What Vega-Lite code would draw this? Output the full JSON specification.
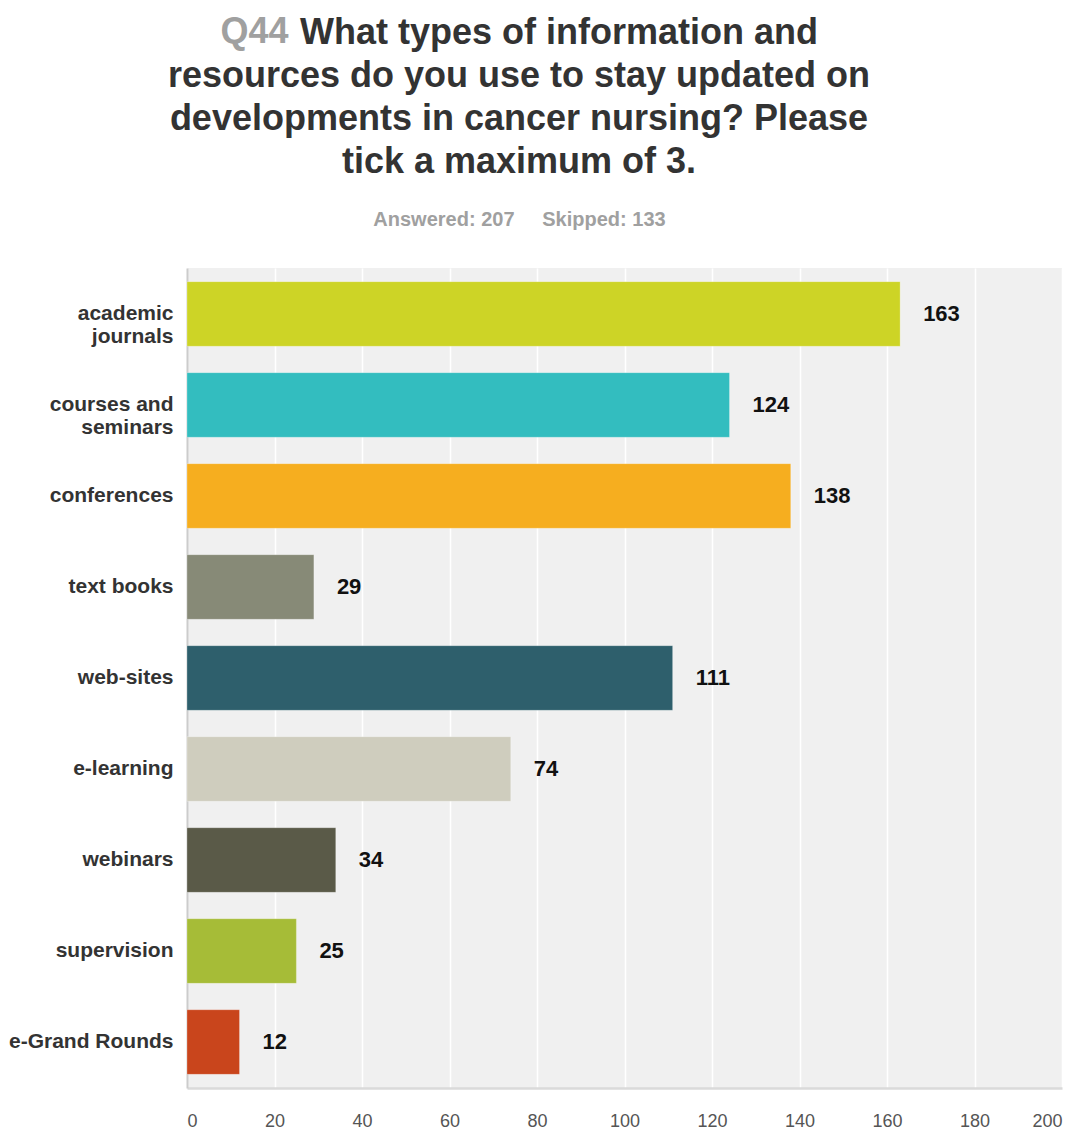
{
  "$schema": "https://vega.github.io/schema/vega-lite/v6.json",
  "width": 875,
  "height": 820,
  "autosize": "none",
  "padding": {"left": 187, "top": 268, "right": 3, "bottom": 41},
  "background": "white",
  "title": {
    "text": ["\u200b\u00a0\u00a0\u00a0\u00a0\u00a0\u00a0\u00a0 What types of information and", "resources do you use to stay updated on", "developments in cancer nursing? Please", "tick a maximum of 3."],
    "font": "Liberation Sans",
    "fontSize": 36,
    "fontWeight": "bold",
    "color": "#333333",
    "lineHeight": 43,
    "anchor": "middle",
    "frame": "group",
    "dx": -105.5,
    "offset": -168
  },
  "data": {
    "values": [
      {"resource": "academic journals", "count": 163},
      {"resource": "courses and seminars", "count": 124},
      {"resource": "conferences", "count": 138},
      {"resource": "text books", "count": 29},
      {"resource": "web-sites", "count": 111},
      {"resource": "e-learning", "count": 74},
      {"resource": "webinars", "count": 34},
      {"resource": "supervision", "count": 25},
      {"resource": "e-Grand Rounds", "count": 12}
    ]
  },
  "config": {
    "view": {"fill": "#F0F0F0", "stroke": null}
  },
  "encoding": {
    "y": {
      "field": "resource",
      "type": "nominal",
      "sort": null,
      "scale": {"paddingInner": 0.29, "paddingOuter": 0.15},
      "axis": {
        "title": "Q44",
        "titleAngle": 0,
        "titleAlign": "left",
        "titleBaseline": "alphabetic",
        "titleX": 33,
        "titleY": -226,
        "titleFont": "Liberation Sans",
        "titleFontSize": 36,
        "titleFontWeight": "bold",
        "titleColor": "#A0A0A0",
        "labelFont": "Liberation Sans",
        "labelFontSize": 21,
        "labelFontWeight": "bold",
        "labelColor": "#333333",
        "labelPadding": 14,
        "labelLineHeight": 23,
        "labelLimit": 300,
        "labelExpr": "datum.value == 'academic journals' ? ['academic', 'journals'] : datum.value == 'courses and seminars' ? ['courses and', 'seminars'] : datum.value",
        "ticks": false,
        "domainColor": "#CCCCCC",
        "domainWidth": 2,
        "grid": false
      }
    },
    "x": {
      "field": "count",
      "type": "quantitative",
      "scale": {"domain": [0, 200], "nice": false},
      "axis": {
        "title": "Answered: 207\u00a0\u00a0\u00a0\u00a0\u00a0Skipped: 133",
        "titleX": 332,
        "titleY": -863,
        "titleAlign": "center",
        "titleBaseline": "alphabetic",
        "titleFont": "Liberation Sans",
        "titleFontSize": 20,
        "titleFontWeight": "bold",
        "titleColor": "#A0A0A0",
        "values": [0, 20, 40, 60, 80, 100, 120, 140, 160, 180, 200],
        "labelFont": "Liberation Sans",
        "labelFontSize": 18,
        "labelColor": "#555555",
        "labelPadding": 24,
        "labelFlush": true,
        "ticks": false,
        "grid": true,
        "gridColor": "#FFFFFF",
        "gridWidth": 1.5,
        "domainColor": "#DADADA",
        "domainWidth": 2.5
      }
    }
  },
  "layer": [
    {
      "mark": {"type": "bar", "stroke": "#FFFFFF", "strokeOpacity": 0.25, "strokeWidth": 1},
      "encoding": {
        "color": {
          "field": "resource",
          "type": "nominal",
          "legend": null,
          "scale": {
            "domain": ["academic journals", "courses and seminars", "conferences", "text books", "web-sites", "e-learning", "webinars", "supervision", "e-Grand Rounds"],
            "range": ["#CDD426", "#33BDBF", "#F6AE1F", "#878A77", "#2E5F6C", "#CFCDBE", "#5A5A48", "#A6BC37", "#C9451C"]
          }
        }
      }
    },
    {
      "mark": {"type": "text", "align": "left", "baseline": "middle", "dx": 23, "font": "Liberation Sans", "fontSize": 22, "fontWeight": "bold", "color": "#111111"},
      "encoding": {
        "text": {"field": "count", "type": "quantitative"}
      }
    }
  ]
}
